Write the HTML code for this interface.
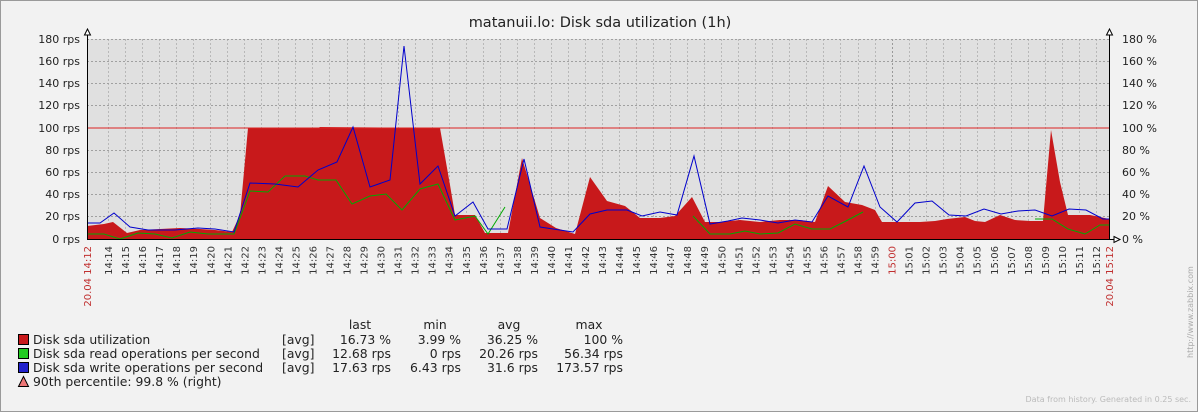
<!DOCTYPE html>
<html><head><meta charset="utf-8"><style>
html,body{margin:0;padding:0;background:#f2f2f2}
svg{display:block;font-family:"DejaVu Sans","Liberation Sans",sans-serif}
</style></head><body>
<svg width="1198" height="412" viewBox="0 0 1198 412" xmlns="http://www.w3.org/2000/svg">
<rect x="0.5" y="0.5" width="1197" height="411" fill="#f2f2f2" stroke="#9a9a9a"/>
<text x="600" y="27" font-size="14.5" text-anchor="middle" fill="#222">matanuii.lo: Disk sda utilization (1h)</text>
<rect x="87" y="39" width="1022" height="200" fill="#e0e0e0"/>
<g id="vg" stroke="#b8b8b8" stroke-dasharray="2,2" stroke-width="1"></g>
<g stroke="#a0a0a0" stroke-dasharray="2,2" stroke-width="1">
<line x1="87" y1="39.5" x2="1109" y2="39.5"/><line x1="87" y1="61.5" x2="1109" y2="61.5"/><line x1="87" y1="83.5" x2="1109" y2="83.5"/><line x1="87" y1="105.5" x2="1109" y2="105.5"/><line x1="87" y1="150.5" x2="1109" y2="150.5"/><line x1="87" y1="172.5" x2="1109" y2="172.5"/><line x1="87" y1="194.5" x2="1109" y2="194.5"/><line x1="87" y1="216.5" x2="1109" y2="216.5"/>
</g>
<polygon fill="#c8191b" points="87,239 87,226 104,224 113,222 127,233 140,230 160,229 180,228 200,229 215,230 232,232 240,215 248,128 318,128 320,127 440,128 450,185 455,215 475,215 485,233 508,233 522,158 540,218 556,228 575,234 590,177 607,201 625,206 640,218 660,218 675,216 692,197 705,222 720,222 740,220 760,222 780,220 800,220 815,222 828,186 845,202 862,205 875,210 882,222 900,222 920,222 935,221 947,219 965,217 975,221 985,222 1000,215 1015,220 1030,221 1043,221 1051,130 1060,182 1068,215 1090,215 1100,217 1109,219 1109,239"/>
<line x1="87" y1="128" x2="1109" y2="128" stroke="#d22" stroke-width="1"/>
<polyline fill="none" stroke="#00aa00" stroke-width="1" points="87,234 104,234 120,239 138,233 155,234 172,238 190,232 208,234 234,234 250,191 268,192 285,176 305,176 318,180 336,180 352,204 370,196 386,194 402,210 420,189 438,184 455,220 475,216 488,234 505,207"/>
<polyline fill="none" stroke="#00aa00" stroke-width="1" points="693,216 710,234 730,234 745,231 760,234 778,233 795,224 812,229 830,229 846,221 863,212"/>
<polyline fill="none" stroke="#00aa00" stroke-width="1" points="1035,219 1052,219 1068,229 1085,234 1100,225 1109,225"/>
<polyline fill="none" stroke="#0000cc" stroke-width="1" points="87,223 100,223 114,213 130,227 148,230 175,230 198,228 215,229 234,232 250,183 275,184 298,187 318,170 337,162 353,127 370,187 390,180 404,46 420,184 438,166 455,216 473,202 488,229 507,229 524,159 540,227 573,232 590,214 607,210 627,210 642,216 660,212 677,215 694,156 710,224 728,221 742,218 760,220 778,223 795,220 812,222 828,196 848,207 864,166 880,207 897,222 915,203 932,201 949,215 966,216 984,209 1001,214 1018,211 1035,210 1052,216 1069,209 1086,210 1103,219 1109,219"/>
<g stroke="#000" stroke-width="1" fill="none">
<line x1="87.5" y1="33" x2="87.5" y2="240"/><line x1="1109.5" y1="33" x2="1109.5" y2="240"/><line x1="87" y1="239.5" x2="1115" y2="239.5"/>
<path d="M84.5,35 L87.5,29 L90.5,35 Z M1106.5,35 L1109.5,29 L1112.5,35 Z M1114,236.5 L1120,239.5 L1114,242.5 Z" fill="#fff"/>
</g>
<g font-size="11" fill="#222" text-anchor="end">
<text x="80" y="43">180 rps</text><text x="80" y="65">160 rps</text><text x="80" y="87">140 rps</text><text x="80" y="109">120 rps</text><text x="80" y="132">100 rps</text><text x="80" y="154">80 rps</text><text x="80" y="176">60 rps</text><text x="80" y="198">40 rps</text><text x="80" y="220">20 rps</text><text x="80" y="243">0 rps</text>
</g>
<g font-size="11" fill="#222">
<text x="1122" y="43">180 %</text><text x="1122" y="65">160 %</text><text x="1122" y="87">140 %</text><text x="1122" y="109">120 %</text><text x="1122" y="132">100 %</text><text x="1122" y="154">80 %</text><text x="1122" y="176">60 %</text><text x="1122" y="198">40 %</text><text x="1122" y="220">20 %</text><text x="1122" y="243">0 %</text>
</g>
<g id="tl" font-size="10" fill="#333" text-anchor="end"></g>
<g font-size="12.4" fill="#222">
<text x="360" y="329" text-anchor="middle">last</text><text x="435" y="329" text-anchor="middle">min</text><text x="509" y="329" text-anchor="middle">avg</text><text x="589" y="329" text-anchor="middle">max</text>
<rect x="18.5" y="334.5" width="10" height="10" fill="#c8191b" stroke="#000"/>
<rect x="18.5" y="348.5" width="10" height="10" fill="#22cc22" stroke="#000"/>
<rect x="18.5" y="362.5" width="10" height="10" fill="#2222cc" stroke="#000"/>
<path d="M18.5,386.5 L23.5,376.5 L28.5,386.5 Z" fill="#ee7777" stroke="#000"/>
<text x="33" y="344">Disk sda utilization</text><text x="33" y="358">Disk sda read operations per second</text><text x="33" y="372">Disk sda write operations per second</text><text x="33" y="386">90th percentile: 99.8 % (right)</text>
<text x="282" y="344">[avg]</text><text x="282" y="358">[avg]</text><text x="282" y="372">[avg]</text>
<g text-anchor="end">
<text x="391" y="344">16.73 %</text><text x="461" y="344">3.99 %</text><text x="538" y="344">36.25 %</text><text x="623" y="344">100 %</text>
<text x="391" y="358">12.68 rps</text><text x="461" y="358">0 rps</text><text x="538" y="358">20.26 rps</text><text x="623" y="358">56.34 rps</text>
<text x="391" y="372">17.63 rps</text><text x="461" y="372">6.43 rps</text><text x="538" y="372">31.6 rps</text><text x="623" y="372">173.57 rps</text>
</g></g>
<text transform="translate(1193,358) rotate(-90)" font-size="8" fill="#aaa">http://www.zabbix.com</text>
<text x="1191" y="402" font-size="8" fill="#bbb" text-anchor="end">Data from history. Generated in 0.25 sec.</text>
<script>
var vg=document.getElementById('vg'),tl=document.getElementById('tl'),ns='http://www.w3.org/2000/svg';
function lab(x,s,red){var t=document.createElementNS(ns,'text');t.textContent=s;if(red)t.setAttribute('fill','#c03030');
t.setAttribute('transform','translate('+(x+4)+',246) rotate(-90)');tl.appendChild(t);}
for(var m=2;m<=60;m++){var xx=74+m*17.033;var x=Math.round(xx)+0.5;
var l=document.createElementNS(ns,'line');l.setAttribute('x1',x);l.setAttribute('x2',x);l.setAttribute('y1',39);l.setAttribute('y2',239);if(m==48)l.setAttribute('stroke','#999');vg.appendChild(l);
var h=14+Math.floor((12+m)/60),mi=(12+m)%60;
lab(xx,h+':'+(mi<10?'0':'')+mi,m==48);}
lab(87,'20.04 14:12',true);lab(1109,'20.04 15:12',true);
</script>
</svg>
</body></html>
